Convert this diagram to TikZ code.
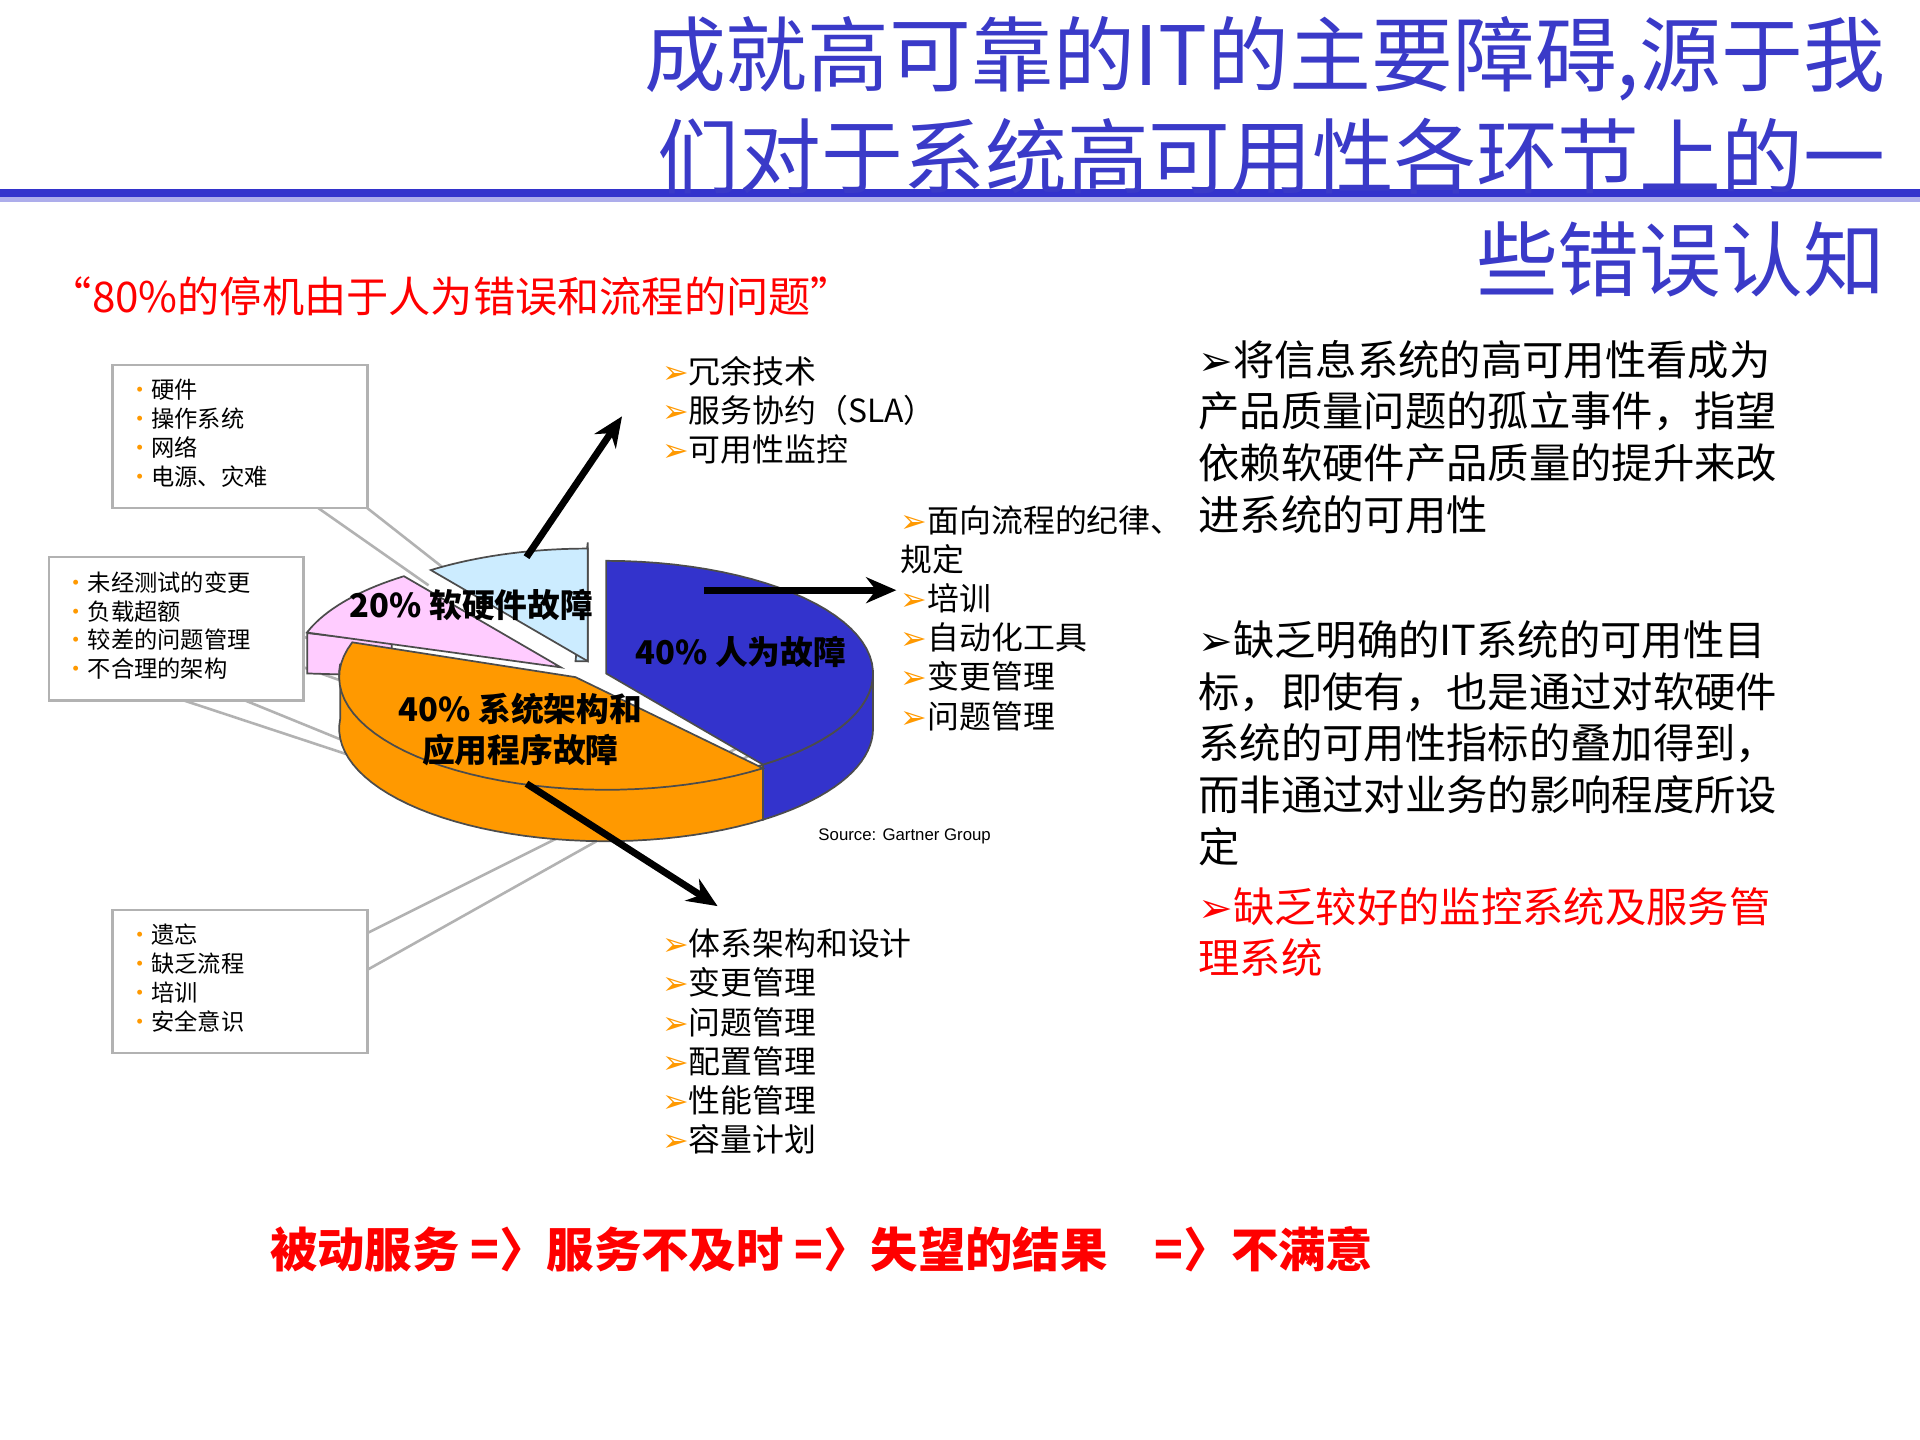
\documentclass[tikz,border=0pt]{standalone}
\usepackage{fontspec}
\setmainfont{Noto Sans CJK SC}
\newfontfamily\dv{DejaVu Sans}
\newfontfamily\ls{Liberation Sans}
\usetikzlibrary{arrows.meta}
\definecolor{ttl}{HTML}{3A3AC8}
\definecolor{pblue}{HTML}{3333CC}
\definecolor{porange}{HTML}{FF9900}
\definecolor{ppink}{HTML}{FFCCFF}
\definecolor{plight}{HTML}{CCECFF}
\definecolor{bul}{HTML}{FF9900}
\tikzset{
 ttlt/.style={anchor=east,text=ttl,font=\fontsize{19}{21}\selectfont},
 rtxt/.style={anchor=north west,align=left,font=\fontsize{9.6}{12}\selectfont,inner sep=0pt},
 lst/.style={anchor=north west,align=left,font=\fontsize{7.4}{9}\selectfont,inner sep=0pt},
 boxt/.style={anchor=north west,align=left,font=\fontsize{5.4}{6.7}\selectfont,inner sep=0pt},
 gbox/.style={draw=black!30,line width=0.6pt,fill=white},
 glin/.style={draw=black!30,line width=0.6pt},
 bigarr/.style={line width=1.6pt,-{Stealth[length=7pt,width=6pt]}},
 pedge/.style={draw=black!70,line width=0.4pt},
 lbl/.style={font=\bfseries\fontsize{7.6}{9.5}\selectfont,align=center}
}
\newcommand{\ob}{{\dv\color{bul}➢}}
\newcommand{\kb}{{\dv ➢}}
\begin{document}
\begin{tikzpicture}[x=0.01cm,y=-0.01cm]
\useasboundingbox (0,0) rectangle (1568,1176);
\fill[white] (0,0) rectangle (1568,1176);
% title rule
\draw[pblue,line width=2pt] (0,158) -- (1568,158);
\draw[pblue!40,line width=1pt] (0,163) -- (1568,163);
\node[ttlt] (t1) at (1552,48) {成就高可靠的IT的主要障碍,源于我};
\node[ttlt] (t2) at (1552,128) {们对于系统高可用性各环节上的一};
\node[ttlt] (t3) at (1552,212) {些错误认知};
\node[anchor=west,text=red,font=\fontsize{9.8}{12}\selectfont,inner sep=0pt] (q) at (40,242) {“80\%的停机由于人为错误和流程的问题”};
% callout lines
\draw[glin] (300,415) -- (370,470); \draw[glin] (260,415) -- (350,478);
\draw[glin] (248,520) -- (300,540); \draw[glin] (248,545) -- (290,560);
\draw[glin] (150,572) -- (350,638); \draw[glin] (200,572) -- (330,625);
\draw[glin] (300,762) -- (670,577); \draw[glin] (300,792) -- (660,590);
% pink side
\fill[ppink,pedge] (251,517) -- (251,550) -- (320,552) -- (320,525) -- cycle;
% pink top
\fill[ppink,pedge] (458,545) -- plot[domain=162:126,samples=20] ({458+218*cos(\x)},{545-92*sin(\x)}) -- cycle;
% light blue
\fill[plight,pedge] (480,443) -- (480,540) -- (470,540) -- cycle;
\fill[plight,pedge] (480,540) -- plot[domain=126:90,samples=20] ({480+218*cos(\x)},{540-92*sin(\x)}) -- cycle;
% pie: orange side
\fill[porange,pedge] plot[domain=-54:-185,samples=40] ({495+218*cos(\x)},{550-92*sin(\x)}) -- plot[domain=-185:-54,samples=40] ({495+218*cos(\x)},{595-92*sin(\x)}) -- cycle;
% blue side
\fill[pblue,pedge] plot[domain=0:-54,samples=20] ({495+218*cos(\x)},{550-92*sin(\x)}) -- plot[domain=-54:0,samples=20] ({495+218*cos(\x)},{595-92*sin(\x)}) -- cycle;
% blue top
\fill[pblue,pedge] (495,550) -- plot[domain=90:-54,samples=40] ({495+218*cos(\x)},{550-92*sin(\x)}) -- cycle;
% orange top
\fill[porange,pedge] (470,553) -- plot[domain=-54:-198,samples=40] ({495+218*cos(\x)},{553-92*sin(\x)}) -- cycle;
\node[lbl] (l20) at (385,494) {20\% 软硬件故障};
\node[lbl,text=black] (l40a) at (605,532) {40\% 人为故障};
\node[lbl] (l40b) at (425,596) {40\% 系统架构和\\应用程序故障};
\node[anchor=west,font=\ls\fontsize{3.9}{5}\selectfont] (src) at (656,683) {Source: Gartner Group};
% arrows
\coordinate (a1) at (430,455); \coordinate (a1e) at (508,340);
\coordinate (a2) at (575,482); \coordinate (a2e) at (732,482);
\coordinate (a3) at (430,640); \coordinate (a3e) at (586,740);
\draw[bigarr] (a1) -- (a1e);
\draw[bigarr] (a2) -- (a2e);
\draw[bigarr] (a3) -- (a3e);
% boxes
\draw[gbox] (92,298) rectangle (300,415);
\node[boxt] (b1) at (104,309) {{\color{bul}•}硬件\\{\color{bul}•}操作系统\\{\color{bul}•}网络\\{\color{bul}•}电源、灾难};
\draw[gbox] (40,455) rectangle (248,572);
\node[boxt] (b2) at (52,466) {{\color{bul}•}未经测试的变更\\{\color{bul}•}负载超额\\{\color{bul}•}较差的问题管理\\{\color{bul}•}不合理的架构};
\draw[gbox] (92,743) rectangle (300,860);
\node[boxt] (b3) at (104,754) {{\color{bul}•}遗忘\\{\color{bul}•}缺乏流程\\{\color{bul}•}培训\\{\color{bul}•}安全意识};
% lists
\node[lst,font=\fontsize{7.4}{9.1}\selectfont] (L1) at (540,290) {\ob 冗余技术\\\ob 服务协约（SLA）\\\ob 可用性监控};
\node[lst,font=\fontsize{7.4}{9.1}\selectfont] (L2) at (735,412) {\ob 面向流程的纪律、\\规定\\\ob 培训\\\ob 自动化工具\\\ob 变更管理\\\ob 问题管理};
\node[lst,font=\fontsize{7.4}{9.1}\selectfont] (L3) at (540,758) {\ob 体系架构和设计\\\ob 变更管理\\\ob 问题管理\\\ob 配置管理\\\ob 性能管理\\\ob 容量计划};
% right text
\node[rtxt] (r1) at (978,277) {\kb 将信息系统的高可用性看成为\\产品质量问题的孤立事件，指望\\依赖软硬件产品质量的提升来改\\进系统的可用性};
\node[rtxt] (r2) at (978,506) {\kb 缺乏明确的IT系统的可用性目\\标，即使有，也是通过对软硬件\\系统的可用性指标的叠加得到，\\而非通过对业务的影响程度所设\\定};
\node[rtxt,text=red] (r3) at (978,724) {{\dv ➢}缺乏较好的监控系统及服务管\\理系统};
% bottom
\node[anchor=west,text=red,font=\bfseries\fontsize{11}{13}\selectfont,inner sep=0pt] (bt) at (220,1020) {被动服务 =〉服务不及时 =〉失望的结果\quad =〉不满意};
\end{tikzpicture}
\end{document}
